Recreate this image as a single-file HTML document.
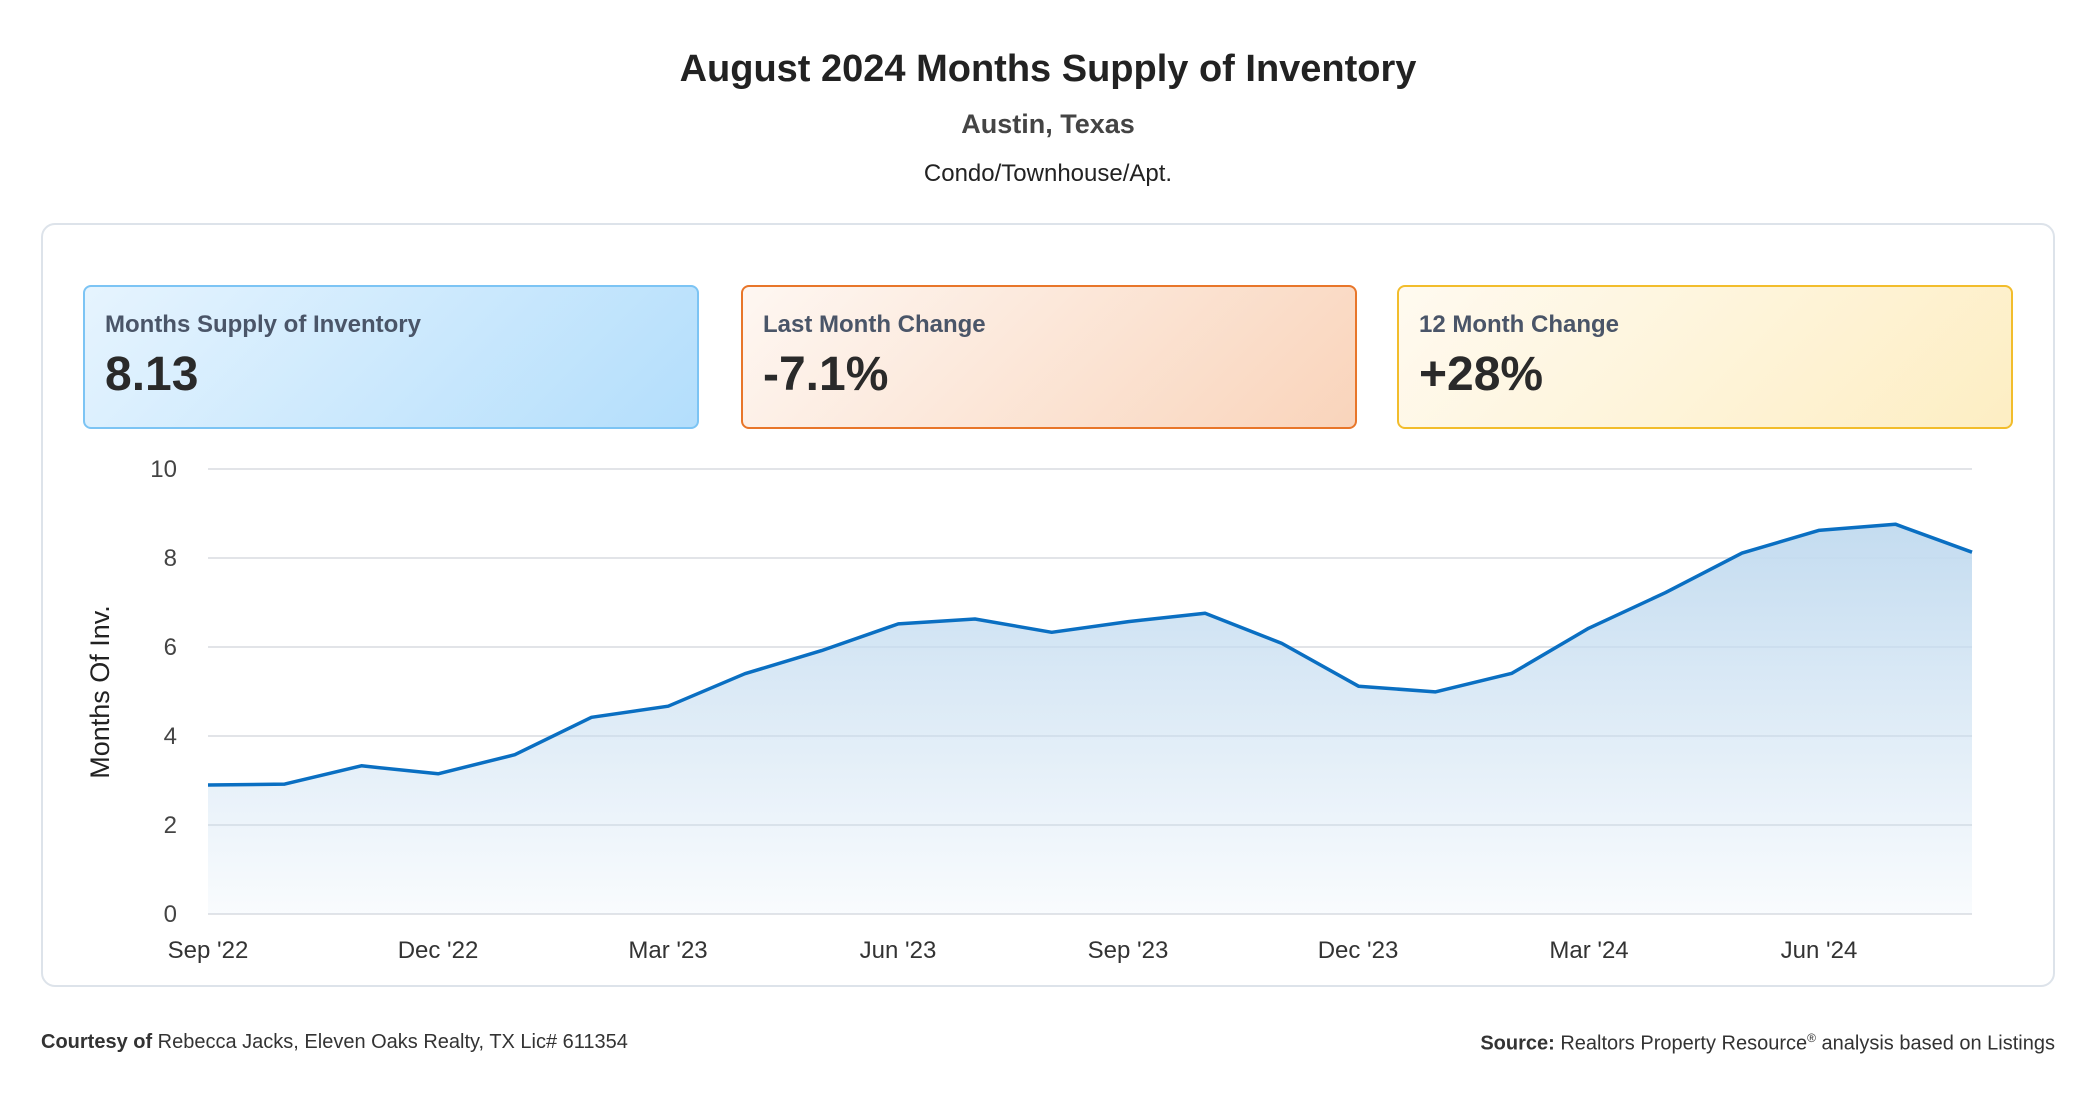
<!DOCTYPE html>
<html><head><meta charset="utf-8"><style>
body{margin:0;width:2096px;height:1100px;background:#fff;font-family:"Liberation Sans",sans-serif;position:relative;overflow:hidden}
.t{position:absolute;left:0;width:2096px;text-align:center}
.card{position:absolute;left:41px;top:223px;width:2010px;height:760px;border:2px solid #dde3ea;border-radius:14px}
.kpi{position:absolute;top:285px;height:144px;width:616px;border:2px solid;border-radius:8px;box-sizing:border-box}
.kpi .l{position:absolute;left:20px;top:24px;font-size:24px;font-weight:bold;color:#4a5568}
.kpi .v{position:absolute;left:20px;top:60px;font-size:48px;font-weight:bold;color:#2a2a2a}
.f{position:absolute;top:1031px;font-size:20px;color:#333}
</style></head><body>
<div class="t" style="top:48px;font-size:38px;font-weight:bold;color:#222">August 2024 Months Supply of Inventory</div>
<div class="t" style="top:109px;font-size:27px;font-weight:bold;color:#444">Austin, Texas</div>
<div class="t" style="top:160px;font-size:24px;color:#222">Condo/Townhouse/Apt.</div>
<div class="card"></div>
<div class="kpi" style="left:83px;border-color:#7cc4f4;background:linear-gradient(135deg,#e6f4fe,#b3defc)"><div class="l">Months Supply of Inventory</div><div class="v">8.13</div></div>
<div class="kpi" style="left:741px;border-color:#e8762a;background:linear-gradient(135deg,#fef7f2,#f9d4bb)"><div class="l">Last Month Change</div><div class="v">-7.1%</div></div>
<div class="kpi" style="left:1397px;border-color:#f2bd2c;background:linear-gradient(135deg,#fffaf0,#fdeec3)"><div class="l">12 Month Change</div><div class="v">+28%</div></div>
<svg width="2096" height="1100" style="position:absolute;left:0;top:0">
<defs><linearGradient id="g" x1="0" y1="0" x2="0" y2="1"><stop offset="0" stop-color="#c4dcf0"/><stop offset="1" stop-color="#c4dcf0" stop-opacity="0.1"/></linearGradient></defs>
<g stroke="#e2e4e8" stroke-width="2">
<line x1="208" x2="1972" y1="469" y2="469"/><line x1="208" x2="1972" y1="558" y2="558"/><line x1="208" x2="1972" y1="647" y2="647"/><line x1="208" x2="1972" y1="736" y2="736"/><line x1="208" x2="1972" y1="825" y2="825"/><line x1="208" x2="1972" y1="914" y2="914"/></g>
<polygon fill="url(#g)" points="208,914 208,785 284.7,784.1 361.4,765.8 438.1,773.8 514.8,754.7 591.5,717.3 668.2,706.2 744.9,673.7 821.6,650.6 898.3,623.9 975,619 1051.7,632.3 1128.4,621.6 1205.1,613.2 1281.8,643.4 1358.5,686.2 1435.2,691.9 1511.9,673.3 1588.6,628.3 1665.3,592.7 1742,553.1 1818.7,530.4 1895.4,524.2 1972,552.2 1972,914"/>
<polyline fill="none" stroke="#0a6fc2" stroke-width="3.5" stroke-linejoin="round" points="208,785 284.7,784.1 361.4,765.8 438.1,773.8 514.8,754.7 591.5,717.3 668.2,706.2 744.9,673.7 821.6,650.6 898.3,623.9 975,619 1051.7,632.3 1128.4,621.6 1205.1,613.2 1281.8,643.4 1358.5,686.2 1435.2,691.9 1511.9,673.3 1588.6,628.3 1665.3,592.7 1742,553.1 1818.7,530.4 1895.4,524.2 1972,552.2"/>
<g font-family="Liberation Sans,sans-serif" font-size="24" fill="#444" text-anchor="end">
<text x="177" y="477">10</text><text x="177" y="566">8</text><text x="177" y="655">6</text><text x="177" y="744">4</text><text x="177" y="833">2</text><text x="177" y="922">0</text></g>
<g font-family="Liberation Sans,sans-serif" font-size="24" fill="#333" text-anchor="middle">
<text x="208" y="958">Sep '22</text><text x="438" y="958">Dec '22</text><text x="668" y="958">Mar '23</text><text x="898" y="958">Jun '23</text><text x="1128" y="958">Sep '23</text><text x="1358" y="958">Dec '23</text><text x="1589" y="958">Mar '24</text><text x="1819" y="958">Jun '24</text></g>
<text transform="translate(109,692) rotate(-90)" text-anchor="middle" font-family="Liberation Sans,sans-serif" font-size="27" fill="#222">Months Of Inv.</text>
</svg>
<div class="f" style="left:41px"><b>Courtesy of</b> Rebecca Jacks, Eleven Oaks Realty, TX Lic# 611354</div>
<div class="f" style="right:41px"><b>Source:</b> Realtors Property Resource<sup style="font-size:12px">®</sup> analysis based on Listings</div>
</body></html>
